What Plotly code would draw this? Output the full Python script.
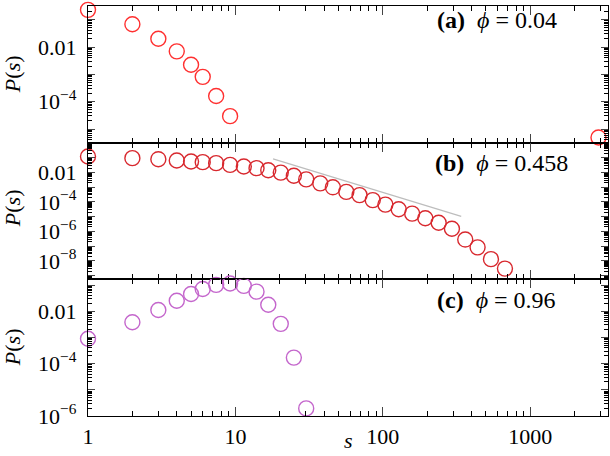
import plotly.graph_objects as go
from plotly.subplots import make_subplots

# cluster size bins (log binned above s=6)
s_a = [1, 2, 3, 4, 5, 6, 7.4, 9.2, 2900]
p_a = [0.229, 0.0676, 0.0200, 0.00692, 0.00224, 8.1e-4, 1.62e-4, 2.95e-5, 4.9e-6]

s_b = [1, 2, 3, 4, 5, 6, 7.4, 9.2, 11.4, 13.9, 16.7, 20.3, 24.9, 30.2, 37.6, 45.8,
       56.5, 69.5, 85.4, 104, 128, 158, 194, 239, 294, 362, 439, 541, 673]
p_b = [0.120, 0.0933, 0.0794, 0.0646, 0.0550, 0.0501, 0.0427, 0.0324, 0.0251, 0.0195,
       0.0141, 0.00977, 0.00603, 0.00339, 0.00182, 9.8e-4, 4.8e-4, 2.9e-4, 1.32e-4,
       6.6e-5, 3.2e-5, 1.62e-5, 7.9e-6, 3.9e-6, 1.51e-6, 2.8e-7, 8.3e-8, 1.32e-8, 3.0e-9]

s_c = [1, 2, 3, 4, 5, 6, 7.4, 9.2, 11.4, 13.9, 16.7, 20.3, 24.9, 30.2]
p_c = [8.9e-4, 0.0038, 0.0112, 0.0251, 0.0457, 0.0708, 0.102, 0.115, 0.0933, 0.0562,
       0.0178, 0.00331, 1.70e-4, 1.95e-6]

# power-law guide in panel (b)
guide_s = [18, 340]
guide_p = [0.083, 1.05e-5]

panel_labels = ["<b>(a)</b>  <i>ϕ</i> = 0.04", "<b>(b)</b>  <i>ϕ</i> = 0.458", "<b>(c)</b>  <i>ϕ</i> = 0.96"]
x_ticks = [1, 10, 100, 1000]
x_ticktext = ["1", "10", "100", "1000"]

FONT = "Liberation Serif"

fig = make_subplots(rows=3, cols=1, shared_xaxes=True, vertical_spacing=0)

def circles(x, y, color, row):
    fig.add_trace(go.Scatter(x=x, y=y, mode="markers", cliponaxis=False,
                             marker=dict(symbol="circle-open", size=15, color=color,
                                         line=dict(width=1.4, color=color)),
                             showlegend=False), row=row, col=1)

fig.add_trace(go.Scatter(x=guide_s, y=guide_p, mode="lines",
                         line=dict(color="#bdbdbd", width=1.2), showlegend=False), row=2, col=1)
circles(s_a, p_a, "#ff3030", 1)
circles(s_b, p_b, "#d8282e", 2)
circles(s_c, p_c, "#c466cc", 3)

fig.update_xaxes(type="log", range=[0, 3.527], tickvals=x_ticks, ticktext=x_ticktext,
                 ticks="inside", ticklen=9, tickwidth=1.2, mirror="allticks",
                 showline=True, linecolor="black", linewidth=1.2, showgrid=False,
                 zeroline=False, automargin=False,
                 tickfont=dict(size=22, family=FONT, color="black"),
                 minor=dict(ticks="inside", ticklen=5, tickwidth=1, dtick="D1", showgrid=False,
                            tickcolor="black"))

y_cfg = [
    ([-5.5, -0.5], [1e-5, 1e-4, 1e-3, 1e-2, 1e-1],
     ["", "10<sup>−4</sup>", "", "0.01", ""]),
    ([-9.25, 0.02], [1e-9, 1e-8, 1e-7, 1e-6, 1e-5, 1e-4, 1e-3, 1e-2, 1e-1, 1],
     ["", "10<sup>−8</sup>", "", "10<sup>−6</sup>", "", "10<sup>−4</sup>", "", "0.01", "", ""]),
    ([-6, -0.78], [1e-6, 1e-5, 1e-4, 1e-3, 1e-2, 1e-1],
     ["10<sup>−6</sup>", "", "10<sup>−4</sup>", "", "0.01", ""]),
]
for i, (rng, tv, tt) in enumerate(y_cfg, start=1):
    fig.update_yaxes(type="log", range=rng, tickvals=tv, ticktext=tt,
                     ticks="inside", ticklen=7, tickwidth=1.2, mirror="allticks",
                     showline=True, linecolor="black", linewidth=1.2, showgrid=False,
                     zeroline=False, ticklabelstandoff=6, automargin=False,
                     tickfont=dict(size=22, family=FONT, color="black"),
                     minor=dict(ticks="inside", ticklen=3.5, tickwidth=1, dtick="D1",
                                showgrid=False, tickcolor="black"),
                     row=i, col=1)

# panel labels (paper coords; plot area spans y 6..416 px, x 88..608 px)
ann_x = [0.906, 0.927, 0.904]
ann_y = [0.966, 0.617, 0.283]
for i, txt in enumerate(panel_labels):
    fig.add_annotation(text=txt, xref="paper", yref="paper", x=ann_x[i], y=ann_y[i],
                       xanchor="right", yanchor="middle", showarrow=False,
                       font=dict(size=24, family=FONT, color="black"))

# y titles, one per panel
title_y = [0.834, 0.507, 0.168]
for ty in title_y:
    fig.add_annotation(text="<i>P</i>(<i>s</i>)", xref="paper", yref="paper", x=-0.146, y=ty,
                       xanchor="center", yanchor="middle", textangle=-90, showarrow=False,
                       font=dict(size=22, family=FONT, color="black"))

fig.add_annotation(text="<i>s</i>", xref="paper", yref="paper", x=0.5, y=-0.095,
                   xanchor="center", yanchor="bottom", showarrow=False,
                   font=dict(size=22, family=FONT, color="black"))

fig.update_layout(width=610, height=456, margin=dict(l=88, r=2, t=6, b=40),
                  plot_bgcolor="white", paper_bgcolor="white",
                  font=dict(family=FONT, color="black"))

# page body has a default 8px margin; drop it so the figure fills the window
fig.write_html("out.html", config={"displayModeBar": False},
               post_script="document.body.style.margin='0';")
